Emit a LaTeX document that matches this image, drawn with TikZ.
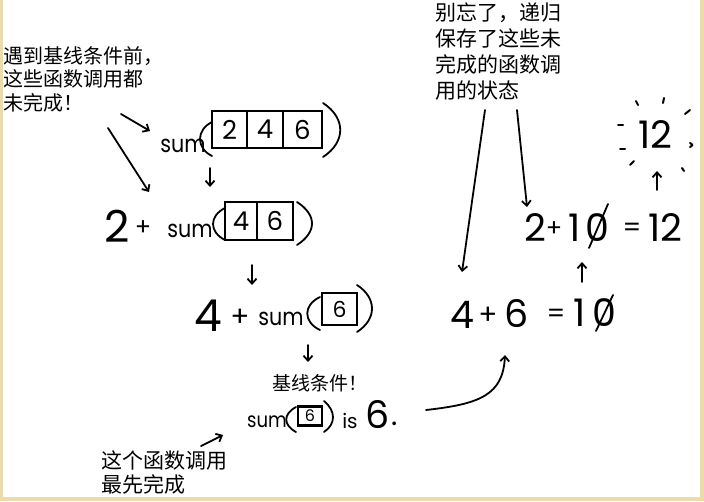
\documentclass[tikz,border=0pt]{standalone}
\usepackage{fontspec}
\setmainfont{Poppins}
\newfontfamily\cjk{Noto Sans CJK SC}
\usetikzlibrary{arrows.meta}
\definecolor{tanborder}{RGB}{236,220,172}
\newcommand{\sumword}{\scalebox{0.86}[1]{sum}}
\begin{document}
\begin{tikzpicture}[x=1pt,y=-1pt,
  note/.style={font=\cjk\fontsize{20}{23.5}\selectfont, align=left, anchor=north west, inner sep=0pt},
  sumt/.style={font=\fontsize{24}{24}\selectfont, inner sep=0pt},
  bigd/.style={font=\fontsize{44}{44}\selectfont, inner sep=0pt},
  midd/.style={font=\fontsize{38}{38}\selectfont, inner sep=0pt},
  cell/.style={draw, line width=1.6pt, inner sep=0pt, font=\fontsize{26}{26}\selectfont},
  pen/.style={line width=1.8pt, line cap=round},
  arr/.style={pen, -{Straight Barb[length=5pt,width=9pt]}},
  ray/.style={line width=2pt, line cap=round},
]
\fill[tanborder] (0,0) rectangle (704,501);
\fill[white] (3,0) rectangle (700,497);
\useasboundingbox (0,0) rectangle (704,501);

% notes
\node[note] (n1) at (3,46) {遇到基线条件前，\\这些函数调用都\\未完成！};
\node[note, font=\cjk\fontsize{21}{25.8}\selectfont] (n2) at (435,3) {别忘了，递归\\保存了这些未\\完成的函数调\\用的状态};
\node[note, font=\cjk\fontsize{21}{24}\selectfont] (n3) at (101,451) {这个函数调用\\最先完成};
\node[font=\cjk\fontsize{19}{22}\selectfont, inner sep=0pt] (base) at (320,383) {基线条件！};

% row 1: sum([2|4|6])
\node[sumt] (sum1) at (183,146) {\sumword};
\node[cell, minimum width=35pt, minimum height=37pt] (c1) at (229.5,129.5) {2};
\node[cell, minimum width=36pt, minimum height=37pt] (c2) at (265,129.5) {4};
\node[cell, minimum width=39pt, minimum height=37pt] (c3) at (302.5,129.5) {6};
\draw[pen] (212,122) .. controls (196,130) and (196,148) .. (212,156);
\draw[pen] (323,103) .. controls (346,118) and (346,142) .. (323,157);

% row 2: 2 + sum([4|6])
\node[bigd] (two) at (117.5,226) {2};
\node[font=\fontsize{24}{24}\selectfont, inner sep=0pt] (p2) at (143,228) {+};
\node[sumt] (sum2) at (190,231) {\sumword};
\node[cell, minimum width=32pt, minimum height=38pt] (d1) at (241,221) {4};
\node[cell, minimum width=36pt, minimum height=38pt] (d2) at (275,221) {6};
\draw[pen] (225,208) .. controls (209,216) and (209,232) .. (225,240);
\draw[pen] (297,202) .. controls (317,215) and (317,232) .. (297,245);

% row 3: 4 + sum([6])
\node[bigd] (four) at (208,316) {4};
\node[font=\fontsize{28}{28}\selectfont, inner sep=0pt] (p3) at (240,318) {+};
\node[sumt] (sum3) at (281,319) {\sumword};
\node[cell, minimum width=35pt, minimum height=32pt, font=\fontsize{22}{22}\selectfont] (e1) at (339.5,309) {6};
\draw[pen] (320,297) .. controls (303,305) and (303,322) .. (320,330);
\draw[pen] (357,285) .. controls (377,298) and (377,319) .. (357,332);

% row 4: sum([6]) is 6.
\node[font=\fontsize{21}{21}\selectfont, inner sep=0pt] (sum4) at (267,422) {\sumword};
\node[cell, line width=2.2pt, minimum width=24pt, minimum height=19pt, font=\fontsize{16}{16}\selectfont] (f1) at (310,416) {6};
\draw[pen] (296,407) .. controls (283,414) and (283,425) .. (296,432);
\draw[pen] (324,401) .. controls (336,411) and (336,424) .. (324,432);
\node[font=\fontsize{20}{20}\selectfont, inner sep=0pt] (is) at (350,421) {is};
\node[midd] (six) at (378,415) {6};
\node[font=\fontsize{30}{30}\selectfont, inner sep=0pt] (dot) at (395,424) {.};

% right side: 4 + 6 = 10
\node[midd] (r4) at (462,315) {4};
\node[font=\fontsize{28}{28}\selectfont, inner sep=0pt] (rp1) at (488,316) {+};
\node[midd] (r6) at (517,314) {6};
\node[font=\fontsize{26}{26}\selectfont, inner sep=0pt] (req1) at (556,316) {=};
\node[midd] (r1) at (580,313) {1};
\node[midd] (r0) at (604,313) {0};
\draw[pen] (596,331) -- (613,295);

% 2 + 10 = 12
\node[midd] (s2) at (535,228) {2};
\node[font=\fontsize{24}{24}\selectfont, inner sep=0pt] (sp) at (554,229) {+};
\node[midd] (s1) at (575,228) {1};
\node[midd] (s0) at (597,228) {0};
\draw[pen] (589,248) -- (608,204);
\node[font=\fontsize{26}{26}\selectfont, inner sep=0pt] (seq) at (632,230) {=};
\node[midd] (s12) at (665,228) {12};

% big 12
\node[midd] (top12) at (655,135) {12};
\draw[ray] (636,101) -- (638,105);
\draw[ray] (664,98) -- (663,103);
\draw[ray] (685,114) -- (690,110);
\draw[ray] (618,125) -- (623,125);
\draw[ray] (620,149) -- (625,149);
\draw[ray] (630,165) -- (634,161);
\draw[ray] (690,143) .. controls (693,145) .. (690,147);
\draw[ray] (682,168) -- (684,171);

% connector end points
\coordinate (a1s) at (121,114);
\coordinate (a1e) at (150,131);
\coordinate (a2s) at (108,128);
\coordinate (a2e) at (149,192);
\coordinate (a3s) at (210,168);
\coordinate (a3e) at (210,187);
\coordinate (a4s) at (252,265);
\coordinate (a4e) at (252,285);
\coordinate (a5s) at (308,345);
\coordinate (a5e) at (308,362);
\coordinate (a6s) at (426,410);
\coordinate (a6e) at (505,355);
\coordinate (a7s) at (201,446);
\coordinate (a7e) at (223,435);
\coordinate (a8s) at (485,110);
\coordinate (a8e) at (462,272);
\coordinate (a9s) at (517,110);
\coordinate (a9e) at (527,207);
\coordinate (a10s) at (582,282);
\coordinate (a10e) at (582,262);
\coordinate (a11s) at (657,190);
\coordinate (a11e) at (657,171);

\draw[arr] (a1s) -- (a1e);
\draw[arr] (a2s) -- (a2e);
\draw[arr] (a3s) -- (a3e);
\draw[arr] (a4s) -- (a4e);
\draw[arr] (a5s) -- (a5e);
\draw[arr] (a6s) .. controls (480,404) and (503,395) .. (a6e);
\draw[arr] (a7s) -- (a7e);
\draw[arr] (a8s) -- (a8e);
\draw[arr] (a9s) -- (a9e);
\draw[arr] (a10s) -- (a10e);
\draw[arr] (a11s) -- (a11e);
\end{tikzpicture}
\end{document}
